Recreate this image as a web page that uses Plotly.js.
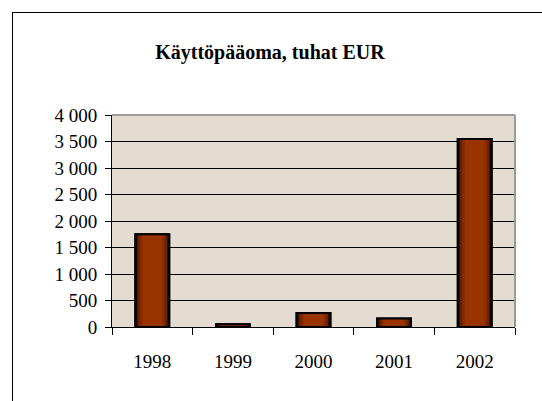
<!DOCTYPE html>
<html>
<head>
<meta charset="utf-8">
<script src="https://cdn.plot.ly/plotly-3.0.1.min.js"></script>
<style>
html,body{margin:0;padding:0;background:#fff;}
#frame{position:absolute;left:12px;top:12px;width:600px;height:500px;border:1px solid #000;box-sizing:border-box;}
#chart{position:absolute;left:0;top:0;width:542px;height:401px;}
</style>
</head>
<body>
<div id="frame"></div>
<div id="chart"></div>
<script>
var years = ['1998', '1999', '2000', '2001', '2002'];
var values = [1752, 50, 265, 159, 3547];
var yTicks = [0, 500, 1000, 1500, 2000, 2500, 3000, 3500, 4000];

var layers = [
  {w: 0.42, c: '#3d1000', lw: 2, lc: '#000'},
  {w: 0.36, c: '#6e2200', lw: 0, lc: '#000'},
  {w: 0.30, c: '#8a2c00', lw: 0, lc: '#000'},
  {w: 0.24, c: '#993300', lw: 0, lc: '#000'}
];
var traces = layers.map(function (L) {
  return {
    type: 'bar', x: years, y: values, width: L.w,
    marker: {color: L.c, line: {color: L.lc, width: L.lw}},
    hoverinfo: 'skip', showlegend: false
  };
});
traces.push({
  type: 'bar', x: years, y: values, width: 0.42,
  marker: {color: 'rgba(0,0,0,0)', line: {color: '#000', width: 2}},
  hoverinfo: 'skip', showlegend: false
});

var serif = '"Liberation Serif", "Times New Roman", serif';
var layout = {
  width: 542, height: 401,
  margin: {l: 112, r: 27, t: 115, b: 74},
  paper_bgcolor: 'rgba(0,0,0,0)',
  plot_bgcolor: '#e4dcd0',
  barmode: 'overlay',
  separators: ', ',
  font: {family: serif, size: 19, color: '#000'},
  title: {
    text: '<b>Käyttöpääoma, tuhat EUR</b>',
    font: {family: serif, size: 20, color: '#000'},
    x: 0.498, xref: 'container', xanchor: 'center',
    y: 0.87, yref: 'container', yanchor: 'middle'
  },
  xaxis: {
    type: 'category',
    showline: true, linecolor: '#000', linewidth: 1,
    ticks: 'outside', tickson: 'boundaries', ticklen: 7, tickcolor: '#000', tickwidth: 1,
    ticklabelstandoff: 17,
    showgrid: false, zeroline: false, fixedrange: true,
    tickfont: {family: serif, size: 19}
  },
  yaxis: {
    range: [0, 4000], tickvals: yTicks,
    separatethousands: true, tickformat: ',d',
    showline: true, linecolor: '#000', linewidth: 1,
    ticks: 'outside', ticklen: 6, tickcolor: '#000', tickwidth: 1,
    ticklabelstandoff: 4,
    showgrid: true, gridcolor: '#000', gridwidth: 1,
    zeroline: false, fixedrange: true,
    tickfont: {family: serif, size: 19}
  },
  shapes: [
    {type: 'line', xref: 'paper', yref: 'paper', x0: 0, x1: 1, y0: 1, y1: 1, line: {color: '#9a9a9a', width: 2}, layer: 'above'},
    {type: 'line', xref: 'paper', yref: 'paper', x0: 1, x1: 1, y0: 0, y1: 1, line: {color: '#9a9a9a', width: 2}, layer: 'above'}
  ]
};

Plotly.newPlot('chart', traces, layout, {displayModeBar: false, staticPlot: true});
</script>
</body>
</html>
